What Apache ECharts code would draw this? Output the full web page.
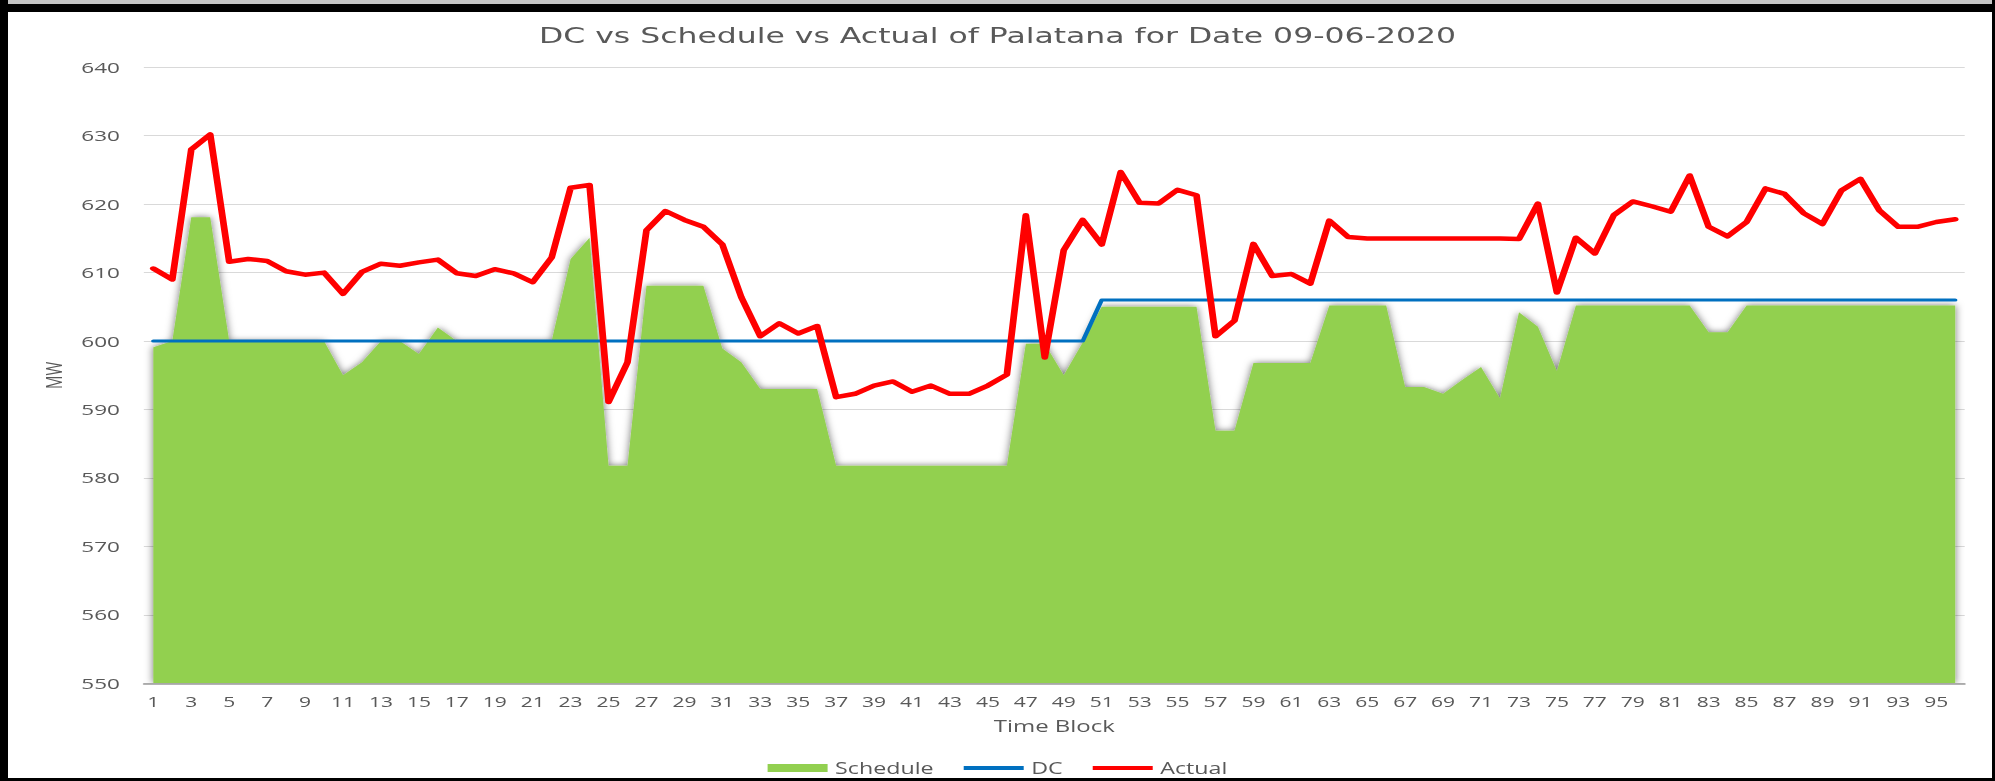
<!DOCTYPE html>
<html>
<head>
<meta charset="utf-8">
<title>DC vs Schedule vs Actual of Palatana</title>
<script src="https://cdn.jsdelivr.net/npm/echarts@6/dist/echarts.min.js"></script>
<style>
	html, body { margin: 0; padding: 0; background: #fff; }
	#wrap { position: relative; width: 1995px; height: 781px; overflow: hidden; background: #fff; }
	/* 原图是横向拉伸过的截图，这里用 scaleX 还原 */
	#chart { position: absolute; left: 0; top: 0; width: 1330px; height: 781px; transform: scaleX(1.5); transform-origin: 0 0; }
	.edge { position: absolute; background: #000; }
</style>
</head>
<body>
<div id="wrap">
	<div id="chart"></div>
	<div class="edge" style="left:0;top:0;width:1995px;height:4px;background:#c4c4c4"></div>
	<div class="edge" style="left:0;top:4px;width:1995px;height:8px"></div>
	<div class="edge" style="left:0;top:0;width:8px;height:781px"></div>
	<div class="edge" style="left:1992px;top:0;width:3px;height:781px"></div>
	<div class="edge" style="left:0;top:778px;width:1995px;height:3px"></div>
</div>
<script>
// 时段 1..96
const timeBlocks = [];
for (let i = 1; i <= 96; i++) timeBlocks.push(String(i));

// 计划 Schedule
const scheduleValues = [
	599.1, 600, 618.1, 618.1, 600, 600, 600, 600, 600, 600,
	595.0, 596.9, 600, 600, 598.1, 602.0, 600, 600, 600, 600,
	600, 600, 612.0, 615.1, 581.8, 581.8, 608.1, 608.1, 608.1, 608.1,
	598.9, 596.9, 593.0, 593.0, 593.0, 593.0, 581.8, 581.8, 581.8, 581.8,
	581.8, 581.8, 581.8, 581.8, 581.8, 581.8, 599.6, 599.6, 595.0, 599.8,
	605.0, 605.0, 605.0, 605.0, 605.0, 605.0, 586.9, 586.9, 596.8, 596.8,
	596.8, 596.8, 605.2, 605.2, 605.2, 605.2, 593.3, 593.3, 592.3, 594.3,
	596.2, 591.6, 604.2, 602.1, 595.6, 605.2, 605.2, 605.2, 605.2, 605.2,
	605.2, 605.2, 601.3, 601.3, 605.2, 605.2, 605.2, 605.2, 605.2, 605.2,
	605.2, 605.2, 605.2, 605.2, 605.2, 605.2
];

// 申报能力 DC
const dcValues = [
	600, 600, 600, 600, 600, 600, 600, 600, 600, 600,
	600, 600, 600, 600, 600, 600, 600, 600, 600, 600,
	600, 600, 600, 600, 600, 600, 600, 600, 600, 600,
	600, 600, 600, 600, 600, 600, 600, 600, 600, 600,
	600, 600, 600, 600, 600, 600, 600, 600, 600, 600,
	606, 606, 606, 606, 606, 606, 606, 606, 606, 606,
	606, 606, 606, 606, 606, 606, 606, 606, 606, 606,
	606, 606, 606, 606, 606, 606, 606, 606, 606, 606,
	606, 606, 606, 606, 606, 606, 606, 606, 606, 606,
	606, 606, 606, 606, 606, 606
];

// 实际 Actual
const actualValues = [
	610.6, 609.0, 628.0, 630.2, 611.6, 612.0, 611.7, 610.2, 609.7, 610.0,
	606.9, 610.1, 611.3, 611.0, 611.5, 611.9, 609.9, 609.5, 610.5, 609.9,
	608.6, 612.2, 622.4, 622.8, 591.1, 596.9, 616.2, 619.0, 617.7, 616.7,
	614.1, 606.4, 600.7, 602.6, 601.1, 602.2, 591.8, 592.3, 593.5, 594.1,
	592.6, 593.5, 592.3, 592.3, 593.5, 595.1, 618.4, 597.6, 613.3, 617.7,
	614.1, 624.7, 620.2, 620.1, 622.1, 621.3, 600.7, 603.0, 614.2, 609.5,
	609.8, 608.4, 617.6, 615.2, 615.0, 615.0, 615.0, 615.0, 615.0, 615.0,
	615.0, 615.0, 614.9, 620.1, 607.1, 615.1, 612.8, 618.4, 620.4, 619.7,
	618.9, 624.2, 616.7, 615.3, 617.4, 622.3, 621.5, 618.7, 617.1, 622.0,
	623.7, 619.1, 616.7, 616.7, 617.4, 617.8
];

const yTicks = { min: 550, max: 640, interval: 10 };

const textColor = '#595959';
const fontFamily = '"Open Sans", "Liberation Sans", sans-serif';

const chart = echarts.init(document.getElementById('chart'), null, { renderer: 'svg', width: 1330, height: 781 });

const option = {
	animation: false,
	backgroundColor: 'transparent',
	title: {
		text: 'DC vs Schedule vs Actual of Palatana for Date 09-06-2020',
		left: 'center',
		top: 20,
		textStyle: {
			color: textColor,
			fontFamily: '"DejaVu Sans", "Open Sans", sans-serif',
			fontWeight: 'normal',
			fontSize: 21
		}
	},
	legend: {
		top: 755,
		left: 'center',
		itemWidth: 40,
		itemHeight: 8,
		itemGap: 20,
		textStyle: { color: textColor, fontFamily: fontFamily, fontSize: 15.5 },
		data: [
			{ name: 'Schedule', icon: 'rect' },
			{ name: 'DC', icon: 'path://M0,0H40V4H0Z' },
			{ name: 'Actual', icon: 'path://M0,0H40V4H0Z' }
		]
	},
	grid: {
		left: 95.9,
		right: 20.2,
		top: 67.3,
		bottom: 97.7
	},
	xAxis: {
		type: 'category',
		data: timeBlocks,
		boundaryGap: true,
		name: 'Time Block',
		nameLocation: 'middle',
		nameGap: 34,
		nameTextStyle: { color: textColor, fontFamily: fontFamily, fontSize: 16 },
		z: 3,
		axisLine: { lineStyle: { color: '#9a9a9a', width: 1.5 } },
		axisTick: { show: false },
		axisLabel: {
			interval: 1,
			margin: 11,
			color: textColor,
			fontFamily: fontFamily,
			fontSize: 14
		}
	},
	yAxis: {
		type: 'value',
		min: yTicks.min,
		max: yTicks.max,
		interval: yTicks.interval,
		name: 'MW',
		nameLocation: 'middle',
		nameRotate: 90,
		nameGap: 52,
		nameTextStyle: { color: textColor, fontFamily: fontFamily, fontSize: 15 },
		axisLine: { show: false },
		axisTick: { show: false },
		axisLabel: {
			margin: 16,
			color: textColor,
			fontFamily: fontFamily,
			fontSize: 15
		},
		splitLine: { lineStyle: { color: '#d9d9d9', width: 1 } }
	},
	series: [
		{
			name: 'Schedule',
			type: 'line',
			data: scheduleValues,
			symbol: 'none',
			itemStyle: { color: '#92D050' },
			lineStyle: { width: 0, color: '#92D050' },
			areaStyle: {
				color: '#92D050',
				opacity: 1,
				shadowBlur: 6,
				shadowColor: 'rgba(0,0,0,0.55)'
			},
			z: 1
		},
		{
			name: 'DC',
			type: 'line',
			data: dcValues,
			symbol: 'none',
			itemStyle: { color: '#0070C0' },
			lineStyle: { width: 3, color: '#0070C0', join: 'round', cap: 'round' },
			z: 2
		},
		{
			name: 'Actual',
			type: 'line',
			data: actualValues,
			symbol: 'none',
			itemStyle: { color: '#FF0000' },
			lineStyle: { width: 4.5, color: '#FF0000', join: 'round', cap: 'round' },
			z: 4
		}
	]
};

chart.setOption(option);
</script>
</body>
</html>
